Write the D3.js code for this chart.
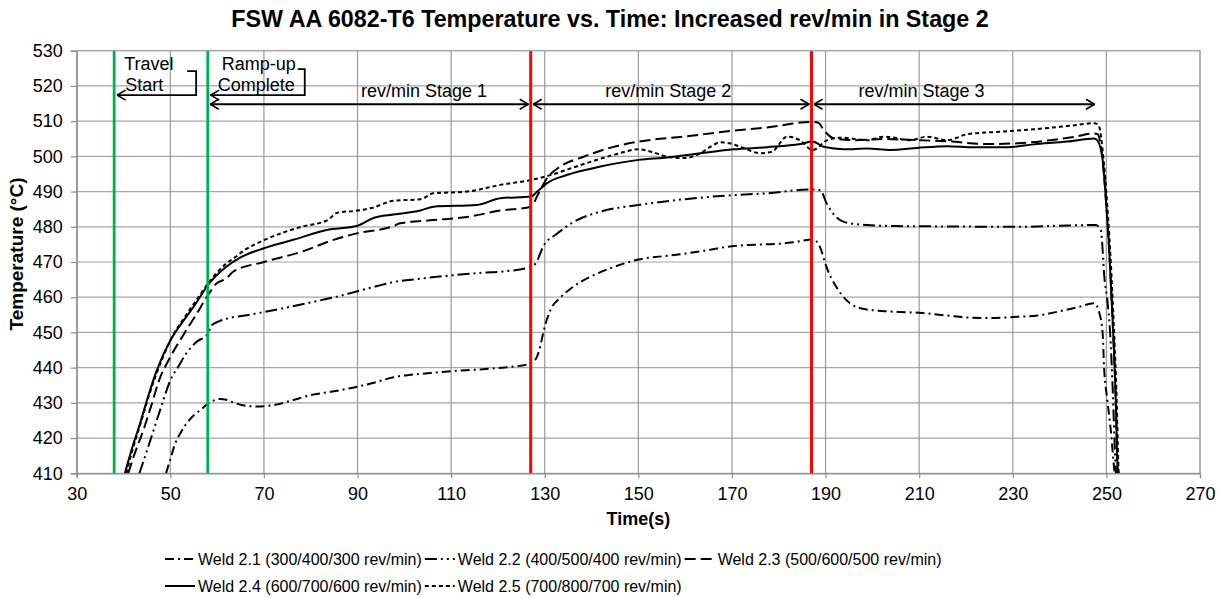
<!DOCTYPE html>
<html>
<head>
<meta charset="utf-8">
<script src="https://cdn.jsdelivr.net/npm/d3@7"></script>
<style>
  body { margin: 0; background: #fff; }
  text { font-family: "Liberation Sans", Arial, sans-serif; fill: #000; }
</style>
</head>
<body>
<svg id="chart" width="1223" height="598"></svg>
<script>
// temperatures, [time s, temp C]
var weld21 = [[49.1,410],[50,414],[51,418.3],[52.2,421.5],[53.4,424],[54.8,426.2],[56.3,427.8],[58,429.7],[59.3,430.7],[60.5,431.1],[62,430.9],[63.3,430.2],[65.5,429.3],[68.3,429],[70.5,429.1],[72.6,429.5],[76,430.7],[79.7,432.1],[85,433.3],[90,434.6],[94,435.9],[97.7,437.3],[101,437.9],[104.9,438.4],[110,439],[116.2,439.5],[120,439.9],[123.3,440.3],[126.9,441.1],[128.3,443],[129.2,447],[129.8,450.6],[131.2,456.3],[133.4,460],[135.5,462.4],[137.6,464.3],[141,466.6],[144.8,468.6],[150,470.7],[155,471.6],[158.9,472.2],[165,473.4],[170,474.5],[175,474.9],[180.3,475.2],[184,475.8],[187.4,476.4],[188.8,474.3],[190.2,468.6],[191.2,465.5],[192.3,462.9],[194.5,459.1],[196,457.6],[198,456.7],[202,456.1],[205.9,455.8],[210,455.6],[216,454.8],[221,454.2],[225.3,454.1],[230.3,454.4],[235.3,454.8],[241,456.3],[244,457.2],[247.4,458.3],[248.5,455.5],[249.2,449.8],[249.5,440.3],[250.2,430.9],[251,421.4],[251.7,411],[251.8,410]];
var weld22 = [[43.4,410],[44.9,416],[46.4,422.1],[48.2,429.5],[50,436.4],[51.8,440.5],[53.4,444],[55.5,447.2],[58,449.6],[58.8,452],[60.5,453.2],[63,454.2],[66,454.8],[70,455.8],[76,457.4],[82,459.1],[86,460.3],[90,461.7],[94,463.1],[97.7,464.3],[103,465.2],[110,466.2],[116.2,466.9],[121.9,467.4],[126.9,468.6],[128,469.5],[129.8,474.7],[132.6,478],[136.2,481.4],[141.9,484.3],[150.1,486.2],[159.7,487.8],[170.4,489],[177.5,489.5],[186.6,490.6],[188.9,490.4],[190.2,486.7],[193.9,481.4],[198.9,480.5],[205,480.2],[215,480.1],[231.7,480],[240,480.3],[247.7,480.5],[248.8,479.1],[249.2,473.4],[249.5,466.8],[250.2,459.2],[250.8,449.8],[251.3,435.6],[252,411],[252.05,410]];
var weld23 = [[41,410],[42.5,416],[44.2,422.1],[46,429.5],[47.6,436.4],[50,443],[53.4,450.6],[55.5,455],[58,460.5],[59.8,463.8],[61.9,465.3],[63.5,467.3],[70,470],[78,472.9],[84.7,476.2],[90,478.2],[97.7,480.2],[99.1,481],[106.2,481.9],[113.4,482.8],[120.5,484.6],[127.1,485.7],[128.5,489],[130.5,493.8],[133.3,497.1],[138.3,499.9],[144.7,502.7],[150.1,504.2],[159.7,505.6],[170.4,507.3],[177.5,508.2],[187.3,509.8],[188.5,509.5],[189.6,507.5],[191.8,505.1],[196.1,504.6],[202.5,504.9],[209.6,504.6],[216.7,504.2],[223.9,503.5],[231,503.7],[238.1,504.6],[243,505.5],[247.4,506.5],[248.1,506.3],[249.2,499],[249.9,487.6],[250.6,473.4],[251.3,454.5],[252,430.9],[252.4,411],[252.45,410]];
var weld24 = [[40.3,410],[41.8,417],[43.5,424],[45.3,432],[47.1,439.2],[50,447.7],[53.4,454.4],[55.5,458.3],[58,463.4],[61.9,468.6],[65,471.3],[70,473.9],[76.3,476.3],[83.4,479.1],[90,480.3],[93.4,482.5],[97.7,483.5],[103.4,484.6],[106.2,485.7],[115.5,486.2],[120.5,488.1],[127.1,488.6],[128.4,490],[130.5,492.4],[134.7,494.7],[141.9,497.1],[150.1,499],[156.2,499.7],[163.3,500.9],[170.4,502],[177.5,502.6],[184.6,503.5],[187.2,504.2],[189.6,502.7],[193.9,502],[198.9,502.2],[203.9,501.8],[209.6,502.4],[216,502.9],[221.7,502.6],[228.8,502.6],[234.5,503.4],[241.7,504.2],[247.4,505.1],[248.1,504.5],[249.2,499],[249.9,487.6],[250.6,473.4],[251.3,454.5],[252,430.9],[252.4,411],[252.45,410]];
var weld25 = [[40.6,410],[42,417],[43.5,423.5],[45.3,431.5],[47.1,438.5],[50,447.7],[53.4,455],[55.5,459],[58,463.8],[61.9,469.5],[63.5,471],[66,473.5],[70,476.2],[74,478.3],[78,480],[83.6,481.9],[85.7,484],[90,484.6],[93.4,485.5],[97.7,487.4],[103.4,487.8],[106.2,489.5],[113.4,490],[120.5,491.9],[127.1,493.3],[130.5,494.4],[137.6,497.5],[144.7,500.4],[150.1,502],[153,501.2],[156.2,499.9],[159.7,499.5],[163.3,500.9],[165.5,502.8],[167.5,504],[169.5,503.7],[171.8,502.7],[176.1,500.9],[178.5,501.3],[181.8,505.6],[184.6,504.5],[187.2,501.8],[190.4,504.6],[193.2,505.3],[198.9,504.6],[202.5,505.6],[208.2,504.6],[211.7,505.6],[216,504.6],[220.3,506.3],[227.4,507],[234.5,507.7],[241.7,508.6],[247.4,509.4],[248.3,508.9],[249.4,499],[250.1,487.6],[250.8,473.4],[251.5,454.5],[252.2,430.9],[252.6,411],[252.65,410]];

var seriesNames = ["Weld 2.1 (300/400/300 rev/min)", "Weld 2.2 (400/500/400 rev/min)", "Weld 2.3 (500/600/500 rev/min)", "Weld 2.4 (600/700/600 rev/min)", "Weld 2.5 (700/800/700 rev/min)"];
var seriesData = [weld21, weld22, weld23, weld24, weld25];
var seriesDash = ["9,4,2,4", "12,4,2,4,2,4", "11,5", null, "4,3"];

var xTicks = [30, 50, 70, 90, 110, 130, 150, 170, 190, 210, 230, 250, 270];
var yTicks = [410, 420, 430, 440, 450, 460, 470, 480, 490, 500, 510, 520, 530];

// event lines (s)
var greenTimes = [38, 58];
var redTimes = [127, 187];
// stage arrows
var stageStart = [58, 127, 187];
var stageEnd = [127, 187, 248];
var stageLabels = ["rev/min Stage 1", "rev/min Stage 2", "rev/min Stage 3"];
var stageLabelAt = [104.2, 156.4, 210.5];
var stageArrowTemp = 514.8;
var bracketTemp = 517.4;

var svg = d3.select("#chart");
// plot box (note: "top" is taken by window.top)
var pL = 76.7, pR = 1200, pT = 50.7, pB = 473.3;

var x = d3.scaleLinear().domain([30, 270]).range([pL, pR]);
var y = d3.scaleLinear().domain([410, 530]).range([pB, pT]);

// arrow head
var defs = svg.append("defs");
defs.append("marker")
  .attr("id", "arr")
  .attr("viewBox", "0 0 10 12")
  .attr("refX", 9.5).attr("refY", 6)
  .attr("markerWidth", 10).attr("markerHeight", 12)
  .attr("markerUnits", "userSpaceOnUse")
  .attr("orient", "auto-start-reverse")
  .append("path")
  .attr("d", "M1,1 L9.5,6 L1,11")
  .attr("fill", "none").attr("stroke", "#000").attr("stroke-width", 1.6);
defs.append("clipPath").attr("id", "plotclip")
  .append("rect").attr("x", pL).attr("y", pT).attr("width", pR - pL).attr("height", pB - pT);

// grid
svg.append("g").selectAll("line").data(yTicks).enter().append("line")
  .attr("x1", pL).attr("x2", pR)
  .attr("y1", function (d) { return y(d); }).attr("y2", function (d) { return y(d); })
  .attr("stroke", "#a6a6a6").attr("stroke-width", 1.2);
svg.append("g").selectAll("line").data(xTicks).enter().append("line")
  .attr("x1", function (d) { return x(d); }).attr("x2", function (d) { return x(d); })
  .attr("y1", pT).attr("y2", pB)
  .attr("stroke", "#999").attr("stroke-width", 1.2);

// axes
var yAxis = svg.append("g").attr("transform", "translate(" + pL + ",0)")
  .call(d3.axisLeft(y).tickValues(yTicks).tickSize(6).tickPadding(8).tickFormat(d3.format("d")));
var xAxis = svg.append("g").attr("transform", "translate(0," + pB + ")")
  .call(d3.axisBottom(x).tickValues(xTicks).tickSize(5).tickPadding(9).tickFormat(d3.format("d")));
[xAxis, yAxis].forEach(function (a) {
  a.selectAll("path, line").attr("stroke", "#8c8c8c").attr("stroke-width", 1.2);
  a.selectAll("text").attr("font-size", 18).attr("fill", "#111")
    .style("font-family", "'Liberation Sans', Arial, sans-serif");
});

// curves
var line = d3.line()
  .x(function (d) { return x(d[0]); })
  .y(function (d) { return y(d[1]); })
  .curve(d3.curveMonotoneX);
svg.append("g").attr("clip-path", "url(#plotclip)")
  .selectAll("path").data(seriesData).enter().append("path")
  .attr("d", line)
  .attr("fill", "none").attr("stroke", "#000").attr("stroke-width", 2)
  .attr("stroke-dasharray", function (d, i) { return seriesDash[i]; });

// event lines
svg.append("g").selectAll("line").data(greenTimes).enter().append("line")
  .attr("x1", function (d) { return x(d); }).attr("x2", function (d) { return x(d); })
  .attr("y1", pT).attr("y2", pB)
  .attr("stroke", "#00b050").attr("stroke-width", 2.8);
svg.append("g").selectAll("line").data(redTimes).enter().append("line")
  .attr("x1", function (d) { return x(d); }).attr("x2", function (d) { return x(d); })
  .attr("y1", pT).attr("y2", pB)
  .attr("stroke", "#ff0000").attr("stroke-width", 3);

// stage arrows
var sa = svg.append("g");
sa.selectAll("line").data(stageStart).enter().append("line")
  .attr("x1", function (d) { return x(d) + 2.5; })
  .attr("x2", function (d, i) { return x(stageEnd[i]) - 2.5; })
  .attr("y1", y(stageArrowTemp)).attr("y2", y(stageArrowTemp))
  .attr("stroke", "#000").attr("stroke-width", 1.8)
  .attr("marker-start", "url(#arr)").attr("marker-end", "url(#arr)");
sa.selectAll("text").data(stageLabels).enter().append("text")
  .attr("x", function (d, i) { return x(stageLabelAt[i]); })
  .attr("y", y(stageArrowTemp) - 7)
  .attr("text-anchor", "middle").attr("font-size", 18)
  .text(function (d) { return d; });

// bracket callouts
var by = y(bracketTemp);
function callout(t, lines, textDx, stub) {
  var x0 = x(t);
  var g = svg.append("g");
  g.selectAll("text").data(lines).enter().append("text")
    .attr("x", function (d, i) { return x0 + textDx[i]; })
    .attr("y", function (d, i) { return by - 25 + i * 20.7; })
    .attr("font-size", 18)
    .text(function (d) { return d; });
  g.append("path")
    .attr("d", "M" + (x0 + stub[0]) + "," + (by - stub[2]) + "H" + (x0 + stub[1]) + "V" + by + "H" + (x0 + 3))
    .attr("fill", "none").attr("stroke", "#000").attr("stroke-width", 1.8)
    .attr("marker-end", "url(#arr)");
}
callout(greenTimes[0], ["Travel", "Start"], [10, 11], [73, 82, 24]);
callout(greenTimes[1], ["Ramp-up", "Complete"], [14, 10], [90, 97, 26]);

// plot frame (top/right)
svg.append("path")
  .attr("d", "M" + pL + "," + pT + "H" + pR + "V" + pB)
  .attr("fill", "none").attr("stroke", "#a6a6a6").attr("stroke-width", 1.2);

// titles
svg.append("text").attr("x", 610).attr("y", 27).attr("text-anchor", "middle")
  .attr("font-size", 23.3).attr("font-weight", "bold")
  .text("FSW AA 6082-T6 Temperature vs. Time: Increased rev/min in Stage 2");
svg.append("text").attr("x", (pL + pR) / 2).attr("y", 525).attr("text-anchor", "middle")
  .attr("font-size", 18).attr("font-weight", "bold").text("Time(s)");
svg.append("text").attr("transform", "translate(23,254) rotate(-90)")
  .attr("text-anchor", "middle").attr("font-size", 19).attr("font-weight", "bold")
  .text("Temperature (\u00b0C)");

// legend, flowing like the original: 3 entries then 2
var lg = svg.append("g");
var cx = 165, row = 0;
seriesNames.forEach(function (name, i) {
  if (i == 3) { cx = 165; row = 1; }
  var ly = 559 + row * 27;
  lg.append("line")
    .attr("x1", cx).attr("x2", cx + 30).attr("y1", ly).attr("y2", ly)
    .attr("stroke", "#000").attr("stroke-width", 2)
    .attr("stroke-dasharray", seriesDash[i]);
  var t = lg.append("text").attr("x", cx + 33).attr("y", ly + 5.5)
    .attr("font-size", 16).text(name);
  cx = cx + 33 + t.node().getComputedTextLength() + 3;
});
</script>
</body>
</html>
